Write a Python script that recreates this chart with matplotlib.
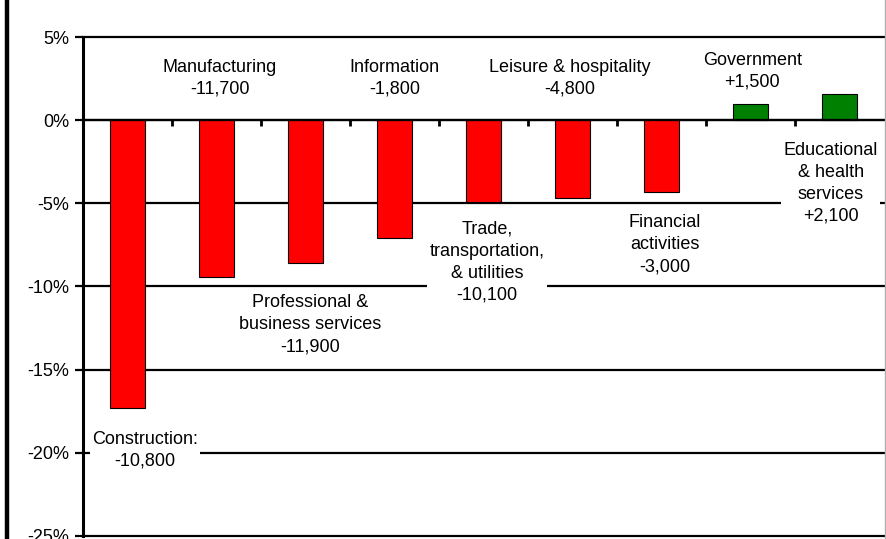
import numpy as np
import matplotlib.pyplot as plt
from matplotlib.lines import Line2D

plt.rcParams['font.family'] = ['Liberation Sans', 'DejaVu Sans']

# data
industries = ['Construction:', 'Manufacturing', 'Professional &\nbusiness services',
              'Information', 'Trade,\ntransportation,\n& utilities',
              'Leisure & hospitality', 'Financial\nactivities', 'Government',
              'Educational\n& health\nservices']
jobs = ['-10,800', '-11,700', '-11,900', '-1,800', '-10,100',
        '-4,800', '-3,000', '+1,500', '+2,100']
pct_change = [-17.3, -9.4, -8.6, -7.1, -4.9, -4.7, -4.3, 1.0, 1.6]
yticks = [5, 0, -5, -10, -15, -20, -25]

# label placement (data coords)
lab_x = [0.2, 1.04, 2.05, 3.0, 4.04, 4.97, 6.04, 7.02, 7.9]
lab_y = [-19.83, 2.52, -12.3, 2.52, -8.53, 2.52, -7.5, 2.94, -3.8]

fig = plt.figure(figsize=(8.86, 5.39), dpi=100)
ax = fig.add_axes([83/886, 3/539, 801/886, 499/539])

x = np.arange(len(pct_change))
colors = ['#FF0000' if v < 0 else '#008000' for v in pct_change]
ax.bar(x, pct_change, width=0.4, color=colors, edgecolor='black', linewidth=0.8, zorder=2)

ax.set_xlim(-0.5, len(x) - 0.5)
ax.set_ylim(-25, 5)
ax.set_yticks(yticks)
ax.set_yticklabels(['%d%%' % t for t in yticks], fontsize=13)

ax.set_axisbelow(True)
ax.grid(axis='y', color='black', linewidth=1.6)
for gl in ax.get_ygridlines():
    gl.set_clip_on(False)

ax.spines['top'].set_visible(False)
ax.spines['right'].set_visible(False)
ax.spines['left'].set_linewidth(2.2)
ax.spines['bottom'].set_position(('data', 0))
ax.spines['bottom'].set_linewidth(1.6)

ax.set_xticks(np.arange(0.5, len(x) - 0.5, 1))
ax.set_xticklabels([])
ax.tick_params(axis='x', direction='out', length=4, width=2)
ax.tick_params(axis='y', direction='out', length=6, width=1.6, pad=4)

for i in range(len(industries)):
    ax.text(lab_x[i], lab_y[i], industries[i] + '\n' + jobs[i], ha='center', va='center',
            multialignment='center', fontsize=13, linespacing=1.38, zorder=5,
            bbox=dict(facecolor='white', edgecolor='none', pad=1.5))

# outer frame bits
fig.add_artist(Line2D([7/886, 7/886], [0, 1], color='black', linewidth=3.2))
fig.add_artist(Line2D([885/886, 885/886], [0, 1], color='#b0b0b0', linewidth=1))

fig.savefig('out.png', dpi=100)
